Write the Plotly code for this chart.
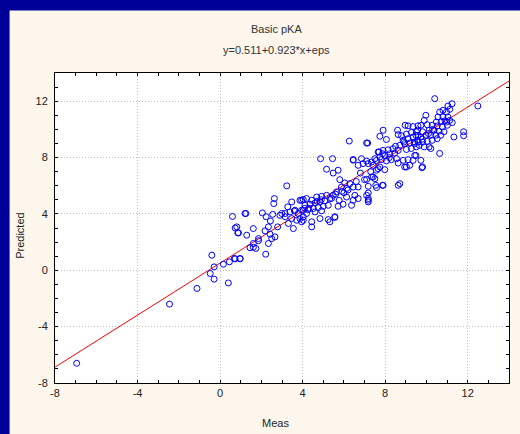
import plotly.graph_objects as go

# Regression reported in the subtitle
intercept = 0.511
slope = 0.923
fit_x = [-8, 14]
fit_y = [intercept + slope * v for v in fit_x]

meas = [
    -6.95, -2.45, -1.12, -0.40, -0.48, -0.29, -0.29, 0.40, 0.16, 0.45, 0.69, 0.97,
    0.60, 0.73, 0.86,
    3.23, 2.63, 2.60, 1.25, 2.05, 2.23, 2.55, 2.44, 2.90, 3.15, 0.81, 0.89, 1.29, 1.61,
    2.18, 2.34, 2.42, 2.50, 2.66, 2.79, 1.86, 1.61, 1.45, 1.73, 2.34, 2.21, 0.97, 0.73,
    3.28, 3.47, 3.87, 4.03, 3.39, 3.63, 3.79, 3.95, 3.15, 3.47, 3.71, 3.95, 3.31, 3.55,
    3.87, 4.03, 2.99, 1.21, 1.61, 1.86,
    6.26, 7.10, 4.87, 5.45, 5.16, 5.48, 5.72, 6.45, 6.85, 6.69, 6.93, 7.10, 7.00,
    5.80, 6.04, 6.29, 5.88, 6.13, 6.45, 6.69, 5.64, 5.48, 5.32, 5.77, 6.13, 6.53, 6.45,
    6.69, 6.37, 5.96, 5.72, 7.18,
    3.95, 4.19, 4.44, 4.68, 4.92, 5.16, 4.11, 4.36, 4.60, 4.84, 5.08, 4.03, 4.27, 4.52,
    4.76, 5.00, 5.24, 4.19, 4.60, 4.92, 4.03, 4.44, 4.44, 4.84, 5.24, 5.32, 5.56, 5.56,
    7.90, 7.74, 8.06, 8.60, 8.63, 7.15,
    8.97, 9.11, 9.35, 9.59, 8.79, 9.03, 9.27, 9.51, 8.87, 9.11, 9.35, 9.59, 8.71, 8.95,
    9.19, 9.43, 9.03, 9.27, 9.51,
    7.66, 7.90, 8.14, 8.38, 7.50, 7.74, 7.98, 8.22, 8.46, 7.34, 7.58, 7.82, 8.06, 8.30,
    8.55, 7.18, 7.42, 7.66, 7.98, 8.63, 8.87, 9.11, 9.43, 8.95, 9.19, 8.71, 7.90, 7.58,
    7.18, 7.34, 7.50, 7.10, 7.18, 7.18, 7.18,
    7.42, 7.58, 7.74, 7.87, 7.54, 7.87, 8.63, 8.63, 7.10, 6.45,
    10.40, 11.04, 11.24, 10.80, 10.97, 11.13,
    10.64, 10.56, 10.80, 11.04, 10.48, 10.72, 10.97, 11.13, 9.97, 9.89, 9.73, 10.04,
    10.28, 10.52, 10.77, 11.01, 11.25, 9.57, 9.81, 10.13, 10.37, 10.61, 10.85, 9.49,
    9.73, 9.97, 10.21, 10.45, 10.69, 9.57, 9.81, 10.04, 10.28, 10.52, 9.65, 9.89,
    10.13, 9.41, 11.33, 10.21, 10.64, 9.73, 9.49, 9.81,
    12.49, 11.80, 11.80, 9.78, 9.03, 9.35,
    4.30, 4.70, 5.40, 5.90, 6.20, 6.80, 7.30, 8.20, 8.50, 9.80, 10.10, 10.90,
    3.60, 4.10, 4.90, 5.60, 6.00, 6.60, 7.70, 8.90, 9.60, 10.30,
]

predicted = [
    -6.60, -2.40, -1.29, 1.07, -0.23, 0.24, -0.63, -0.90, 0.43, 0.60, 0.84, 0.84,
    3.82, 3.00, 2.65,
    5.99, 5.09, 4.73, 4.03, 4.07, 3.80, 3.97, 3.50, 3.90, 3.80, 3.08, 2.65, 2.49, 2.96,
    2.80, 3.08, 2.56, 2.25, 2.37, 3.08, 2.25, 1.90, 1.60, 1.55, 1.90, 1.14, 0.81, 0.81,
    4.50, 4.85, 4.97, 5.02, 4.14, 4.26, 4.03, 4.26, 4.03, 3.67, 3.55, 3.44, 3.32, 2.96,
    3.67, 3.79, 4.03, 4.03, 1.63, 2.10,
    9.17, 9.03, 7.92, 7.92, 7.17, 6.90, 7.10, 7.86, 7.92, 7.45, 7.57, 7.75, 6.43,
    6.43, 6.20, 6.15, 5.91, 5.80, 5.91, 5.91, 5.56, 5.32, 5.09, 4.97, 5.20, 5.32, 4.97,
    5.09, 4.61, 4.69, 4.54, 4.97,
    4.97, 5.09, 4.97, 5.20, 5.25, 5.32, 4.61, 4.69, 4.78, 4.85, 4.92, 4.26, 4.31, 4.38,
    4.45, 4.54, 4.61, 4.03, 4.14, 4.22, 3.55, 3.44, 3.08, 3.67, 3.60, 3.44, 3.75, 3.80,
    9.94, 9.51, 9.28, 9.94, 9.63, 9.03,
    10.29, 10.25, 10.20, 10.25, 9.55, 9.66, 9.78, 9.83, 9.22, 9.34, 9.46, 9.58, 8.87, 8.99,
    9.03, 9.10, 8.57, 8.64, 8.76,
    8.39, 8.51, 8.55, 8.63, 7.92, 8.04, 8.15, 8.27, 8.32, 7.68, 7.80, 7.85, 7.76, 7.85,
    7.92, 7.57, 7.45, 7.21, 7.14, 7.61, 7.80, 7.85, 8.15, 7.33, 7.45, 6.15, 6.03, 5.87,
    5.96, 6.62, 6.50, 6.45, 5.49, 5.09, 4.85,
    6.62, 7.10, 7.33, 8.27, 6.03, 6.03, 6.03, 8.51, 5.32, 7.81,
    12.18, 11.66, 11.82, 11.35, 11.23, 11.42,
    11.23, 10.88, 10.88, 10.88, 10.52, 10.57, 10.52, 10.64, 11.00, 10.64, 10.29, 10.33,
    10.29, 10.24, 10.17, 10.29, 10.48, 9.94, 9.83, 9.94, 9.94, 9.87, 9.83, 9.58,
    9.46, 9.58, 9.58, 9.58, 9.58, 9.22, 9.10, 9.15, 9.22, 9.34, 8.87, 8.76,
    8.76, 8.99, 9.46, 8.64, 8.29, 7.80, 8.15, 7.33,
    11.66, 9.83, 9.55, 7.28, 7.33, 7.80,
    4.40, 4.90, 5.10, 5.60, 5.70, 6.90, 7.00, 8.00, 8.80, 9.30, 9.70, 10.60,
    4.20, 4.40, 5.00, 5.40, 5.50, 6.30, 8.40, 9.10, 9.10, 10.00,
]

tick_vals = [-8, -4, 0, 4, 8, 12]
tick_text = ["-8", "-4", "0", "4", "8", "12"]

BG = "#FDF6EC"
NAVY = "#000099"
FONT = "Liberation Sans, Arial, sans-serif"

fig = go.Figure()
fig.add_trace(go.Scatter(
    x=fit_x, y=fit_y, mode="lines",
    line=dict(color="#FF0000", width=1), hoverinfo="skip", showlegend=False,
))
fig.add_trace(go.Scatter(
    x=meas, y=predicted, mode="markers",
    marker=dict(symbol="circle-open", size=6, color="#0000FF", line=dict(width=1, color="#0000FF")),
    showlegend=False,
))

axis_common = dict(
    tickmode="array", tickvals=tick_vals, ticktext=tick_text,
    showline=True, linecolor="#000000", linewidth=1, mirror="ticks",
    ticks="inside", ticklen=3, tickcolor="#000000", tickwidth=1,
    showgrid=True, gridcolor="#C0C0C0", griddash="1px,2px", gridwidth=1,
    zeroline=False,
    minor=dict(dtick=1, tick0=0, ticks="inside", ticklen=3, tickcolor="#000000", showgrid=False),
    tickfont=dict(family=FONT, size=11, color="#222222"),
)

fig.update_xaxes(range=[-8, 14], **axis_common)
fig.update_yaxes(range=[-8, 14], ticklabelstandoff=4, **axis_common)

L, R, T, B = 54.5, 10.5, 72.5, 51
W, H = 520, 434
pw = W - L - R
ph = H - T - B

def px_x(px):
    return (px - L) / pw

def px_y(py):
    return (H - B - py) / ph

fig.update_layout(
    width=W, height=H,
    margin=dict(l=L, r=R, t=T, b=B, pad=0),
    paper_bgcolor=BG, plot_bgcolor="#FFFFFF",
    font=dict(family=FONT, size=11, color="#222222"),
    shapes=[
        dict(type="rect", xref="paper", yref="paper", x0=px_x(-5), x1=px_x(9),
             y0=px_y(440), y1=px_y(-5), fillcolor=NAVY, line=dict(width=0), layer="above"),
        dict(type="rect", xref="paper", yref="paper", x0=px_x(-5), x1=px_x(525),
             y0=px_y(10), y1=px_y(-5), fillcolor=NAVY, line=dict(width=0), layer="above"),
    ],
    annotations=[
        dict(text="Basic pKA", xref="paper", yref="paper", x=px_x(276), y=px_y(28),
             showarrow=False, xanchor="center", yanchor="middle",
             font=dict(family=FONT, size=11, color="#333333")),
        dict(text="y=0.511+0.923*x+eps", xref="paper", yref="paper", x=px_x(276), y=px_y(49),
             showarrow=False, xanchor="center", yanchor="middle",
             font=dict(family=FONT, size=11, color="#333333")),
        dict(text="Meas", xref="paper", yref="paper", x=px_x(275), y=px_y(423),
             showarrow=False, xanchor="center", yanchor="middle",
             font=dict(family=FONT, size=11, color="#222222")),
        dict(text="Predicted", xref="paper", yref="paper", x=px_x(20), y=px_y(236),
             showarrow=False, xanchor="center", yanchor="middle", textangle=-90,
             font=dict(family=FONT, size=11, color="#222222")),
    ],
)

fig.write_html("out.html")
